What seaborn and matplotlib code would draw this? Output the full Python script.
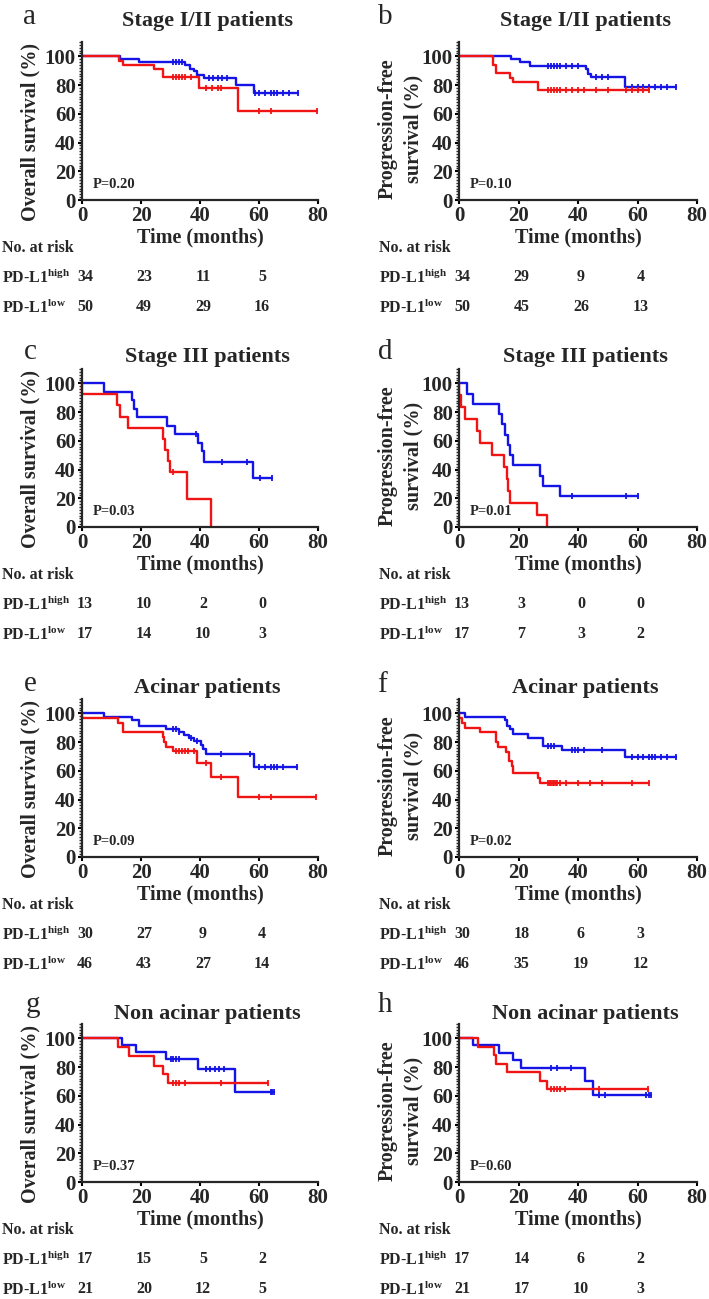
import numpy as np
import matplotlib
matplotlib.use("Agg")
import matplotlib.pyplot as plt
import matplotlib.transforms as mtransforms
from matplotlib.ticker import MultipleLocator
import seaborn as sns

# ---- data (time in months, survival in %) ----
# red = PD-L1 high, blue = PD-L1 low
# a: OS, stage I/II
a_high_t = [0, 12.4, 14.0, 24.5, 27.6, 39.5, 53.0, 79.5]
a_high_s = [100, 97.1, 94.1, 91.0, 85.5, 77.8, 61.9, 61.9]
a_high_cens = [31, 32, 33, 34, 35, 37, 42, 44, 46, 47, 60, 64, 79.5]
a_low_t = [0, 13.0, 19.2, 35.0, 36.7, 37.8, 39.0, 41.4, 52.2, 58.3, 73.3]
a_low_s = [100, 98.0, 96.0, 94.0, 91.5, 89.5, 87.0, 85.0, 80.0, 74.8, 74.8]
a_low_cens = [31, 32, 33, 34, 43, 44.5, 46, 47.5, 49, 58.5, 60, 62, 64, 65, 66, 68, 70, 73.3]

# b: PFS, stage I/II
b_high_t = [0, 11.4, 12.5, 17.0, 18.2, 26.7, 63.9]
b_high_s = [100, 94.1, 88.2, 85.0, 82.0, 76.5, 76.5]
b_high_cens = [30, 31, 32, 33, 34, 36, 38, 40, 42, 46, 50, 56, 58, 60, 62, 63.9]
b_low_t = [0, 17.6, 20.4, 23.8, 42.6, 43.4, 44.5, 55.8, 72.9]
b_low_s = [100, 98.0, 96.0, 93.5, 91.0, 88.0, 85.4, 79.0, 79.0]
b_low_cens = [30, 31, 32, 33, 34, 36, 38, 40, 46, 48, 50, 58, 60, 62, 64, 66, 68, 70, 72.9]

# c: OS, stage III
c_high_t = [0, 0, 11.9, 12.8, 15.6, 27.5, 28.1, 29.0, 29.8, 35.5, 43.7]
c_high_s = [100, 92.3, 84.6, 76.9, 69.2, 61.5, 53.8, 46.2, 38.5, 19.2, 0]
c_high_cens = [31]
c_low_t = [0, 7.5, 16.8, 17.7, 18.8, 28.7, 31.5, 39.2, 40.6, 41.5, 58.1, 64.5]
c_low_s = [100, 94.1, 88.2, 82.4, 76.5, 70.6, 64.7, 58.8, 52.9, 45.0, 34.0, 34.0]
c_low_cens = [38.5, 47.5, 56, 60.5, 64.5]

# d: PFS, stage III
d_high_t = [0, 0, 0.8, 2.0, 6.0, 7.0, 11.2, 15.1, 16.0, 16.6, 17.0, 26.1, 29.5]
d_high_s = [100, 91.7, 83.3, 75.0, 66.7, 58.3, 50.0, 41.7, 33.3, 25.0, 16.7, 8.3, 0]
d_high_cens = []
d_low_t = [0, 2.6, 4.8, 13.5, 14.6, 15.5, 16.6, 17.2, 18.0, 27.3, 28.2, 34.0, 60.0]
d_low_s = [100, 92.9, 85.7, 78.6, 71.4, 64.3, 57.1, 50.0, 42.9, 35.7, 28.6, 21.4, 21.4]
d_low_cens = [38, 56, 60]

# e: OS, acinar
e_high_t = [0, 0, 12.3, 14.0, 27.3, 27.8, 28.4, 30.7, 39.1, 43.8, 52.9, 79.3]
e_high_s = [100, 96.7, 93.3, 86.7, 83.3, 80.0, 76.7, 73.6, 65.1, 56.0, 42.0, 42.0]
e_high_cens = [32, 33, 34, 35, 36, 38, 42, 47, 60, 64, 79.3]
e_low_t = [0, 7.6, 17.1, 19.4, 28.4, 32.9, 34.6, 36.3, 38.0, 40.2, 41.0, 41.9, 58.3, 72.9]
e_low_s = [100, 97.8, 95.6, 91.3, 89.0, 87.0, 85.0, 83.0, 80.5, 78.0, 75.0, 71.5, 62.8, 62.8]
e_low_cens = [31, 32, 33, 37, 39, 47, 57, 60, 62, 64, 65, 66, 68, 72.9]

# f: PFS, acinar
f_high_t = [0, 0, 1.0, 2.0, 7.0, 12.3, 13.2, 15.8, 16.9, 17.7, 18.3, 26.7, 27.3, 64.0]
f_high_s = [100, 96.7, 93.3, 90.0, 86.7, 80.0, 76.7, 73.3, 66.7, 63.3, 58.6, 55.0, 51.7, 51.7]
f_high_cens = [30, 30.5, 31, 31.5, 32, 32.5, 33, 34, 36, 40, 44, 48, 58, 64]
f_low_t = [0, 2.0, 15.5, 16.3, 17.2, 18.0, 23.3, 28.2, 34.6, 55.9, 73.0]
f_low_s = [100, 97.8, 95.6, 91.3, 89.0, 85.3, 82.6, 77.6, 74.3, 69.6, 69.6]
f_low_cens = [30, 31, 32, 38, 39, 40, 42, 48, 58, 60, 62, 64, 65, 66, 68, 70, 73]

# g: OS, non acinar
g_high_t = [0, 12.3, 16.0, 24.5, 27.3, 29.3, 63.0]
g_high_s = [100, 94.1, 87.5, 80.8, 75.0, 68.6, 68.6]
g_high_cens = [31, 32, 33, 35, 47, 63]
g_low_t = [0, 13.5, 18.3, 28.4, 39.3, 51.8, 65.0]
g_low_s = [100, 95.2, 90.5, 85.7, 78.6, 62.9, 62.9]
g_low_cens = [30, 31, 32, 33, 42, 43.5, 45, 46.5, 48, 64, 64.5, 65]

# h: PFS, non acinar
h_high_t = [0, 6.5, 11.8, 12.3, 16.0, 27.3, 29.5, 63.5]
h_high_s = [100, 94.1, 88.2, 82.4, 76.5, 70.6, 64.7, 64.7]
h_high_cens = [31, 32, 33, 34, 35.5, 47, 63.5]
h_low_t = [0, 4.8, 13.6, 18.3, 20.8, 42.4, 44.9, 64.6]
h_low_s = [100, 95.2, 90.0, 84.7, 79.4, 70.0, 60.3, 60.3]
h_low_cens = [31, 33, 37.5, 47, 49, 63, 64, 64.6]

# numbers at risk at 0, 20, 40, 60 months
risk_times = [0, 20, 40, 60]
a_risk_high, a_risk_low = [34, 23, 11, 5], [50, 49, 29, 16]
b_risk_high, b_risk_low = [34, 29, 9, 4], [50, 45, 26, 13]
c_risk_high, c_risk_low = [13, 10, 2, 0], [17, 14, 10, 3]
d_risk_high, d_risk_low = [13, 3, 0, 0], [17, 7, 3, 2]
e_risk_high, e_risk_low = [30, 27, 9, 4], [46, 43, 27, 14]
f_risk_high, f_risk_low = [30, 18, 6, 3], [46, 35, 19, 12]
g_risk_high, g_risk_low = [17, 15, 5, 2], [21, 20, 12, 5]
h_risk_high, h_risk_low = [17, 14, 6, 2], [21, 17, 10, 3]

letters = ["a", "b", "c", "d", "e", "f", "g", "h"]
titles = ["Stage I/II patients", "Stage I/II patients",
          "Stage III patients", "Stage III patients",
          "Acinar patients", "Acinar patients",
          "Non acinar patients", "Non acinar patients"]
p_values = ["P=0.20", "P=0.10", "P=0.03", "P=0.01",
            "P=0.09", "P=0.02", "P=0.37", "P=0.60"]
os_label = "Overall survival (%)"
pfs_label = "Progression-free\nsurvival (%)"

panels = [
    (a_high_t, a_high_s, a_high_cens, a_low_t, a_low_s, a_low_cens, a_risk_high, a_risk_low),
    (b_high_t, b_high_s, b_high_cens, b_low_t, b_low_s, b_low_cens, b_risk_high, b_risk_low),
    (c_high_t, c_high_s, c_high_cens, c_low_t, c_low_s, c_low_cens, c_risk_high, c_risk_low),
    (d_high_t, d_high_s, d_high_cens, d_low_t, d_low_s, d_low_cens, d_risk_high, d_risk_low),
    (e_high_t, e_high_s, e_high_cens, e_low_t, e_low_s, e_low_cens, e_risk_high, e_risk_low),
    (f_high_t, f_high_s, f_high_cens, f_low_t, f_low_s, f_low_cens, f_risk_high, f_risk_low),
    (g_high_t, g_high_s, g_high_cens, g_low_t, g_low_s, g_low_cens, g_risk_high, g_risk_low),
    (h_high_t, h_high_s, h_high_cens, h_low_t, h_low_s, h_low_cens, h_risk_high, h_risk_low),
]

RED = "#f01414"
BLUE = "#1414e6"

sns.set_style("ticks")
plt.rcParams["font.family"] = ["Liberation Serif", "DejaVu Serif"]
plt.rcParams["font.weight"] = "bold"
plt.rcParams["mathtext.fontset"] = "custom"
plt.rcParams["mathtext.rm"] = "Liberation Serif:bold"
plt.rcParams["mathtext.bf"] = "Liberation Serif:bold"

W, H = 709, 1299
fig = plt.figure(figsize=(W / 100, H / 100), dpi=100)

# layout in pixels
col_left = [82, 459]
col_width = [236, 238]
row_bottom = [200, 527, 857, 1182]
ax_h = 158
title_y = [1.134, 1.076, 1.07, 1.064]
letter_pos = [(29, 17), (385, 17), (30, 352), (385, 352),
              (30, 684), (382, 685), (33, 1005), (385, 1005)]


def step_value(t, s, x):
    idx = np.searchsorted(t, x, side="right") - 1
    return np.asarray(s)[idx]


for i, (ht, hs, hc, lt, ls, lc, rh, rl) in enumerate(panels):
    row, col = divmod(i, 2)
    ax = fig.add_axes([col_left[col] / W, 1 - row_bottom[row] / H,
                       col_width[col] / W, ax_h / H])

    for t, s, c, color in [(lt, ls, lc, BLUE), (ht, hs, hc, RED)]:
        sns.lineplot(x=t, y=s, drawstyle="steps-post", estimator=None, sort=False,
                     color=color, lw=1.7, ax=ax, clip_on=False)
        if len(c):
            ax.plot(c, step_value(t, s, c), ls="none", marker="|", ms=4, mew=1.3,
                    color=color, clip_on=False)

    ax.set_xlim(0, 80)
    ax.set_ylim(0, 110)
    ax.xaxis.set_major_locator(MultipleLocator(20))
    ax.yaxis.set_minor_locator(MultipleLocator(2))
    ax.set_yticks([0, 20, 40, 60, 80, 100])
    sns.despine(ax=ax)
    for sp in ["left", "bottom"]:
        ax.spines[sp].set_linewidth(1.6)
    ax.tick_params(axis="both", which="major", width=1.5, length=3, pad=1.5,
                   labelsize=15, color="black")
    ax.tick_params(axis="y", which="minor", width=1.0, length=2)
    for lab in ax.get_xticklabels() + ax.get_yticklabels():
        lab.set_fontweight("bold")

    ax.set_xlabel("Time (months)", fontsize=14.5, fontweight="bold")
    ax.xaxis.set_label_coords(0.5, -0.175)
    ax.xaxis.label.set_va("top")
    if col == 0:
        ax.set_ylabel(os_label, fontsize=14.5, fontweight="bold")
        ax.yaxis.set_label_coords(-0.22, 0.43)
    else:
        ax.set_ylabel(pfs_label, fontsize=14.5, fontweight="bold", linespacing=1.4)
        ax.yaxis.set_label_coords(-0.245, 0.45)
    ax.yaxis.label.set_va("center")

    ax.text(0.53, title_y[row], titles[i], transform=ax.transAxes,
            ha="center", va="center", fontsize=16, fontweight="bold")
    ax.text(3.5, 11, p_values[i], fontsize=10.5, fontweight="bold", va="center")

    # numbers at risk table
    tr = mtransforms.blended_transform_factory(ax.transData, ax.transAxes)
    ax.text(-27, -0.306, "No. at risk", transform=tr, fontsize=11.5,
            fontweight="bold", va="center", ha="left")
    ax.text(-27, -0.49, r"PD-L1$^{\mathrm{high}}$", transform=tr, fontsize=11.5,
            fontweight="bold", va="center", ha="left")
    ax.text(-27, -0.68, r"PD-L1$^{\mathrm{low}}$", transform=tr, fontsize=11.5,
            fontweight="bold", va="center", ha="left")
    for x, nh, nl in zip(risk_times, rh, rl):
        ax.text(x + 1, -0.49, str(nh), transform=tr, fontsize=11.5,
                fontweight="bold", va="center", ha="center")
        ax.text(x + 1, -0.68, str(nl), transform=tr, fontsize=11.5,
                fontweight="bold", va="center", ha="center")

    lx, ly = letter_pos[i]
    fig.text(lx / W, 1 - ly / H, letters[i], fontsize=21, fontweight="normal",
             ha="center", va="center")

fig.savefig("out.png", dpi=100)
